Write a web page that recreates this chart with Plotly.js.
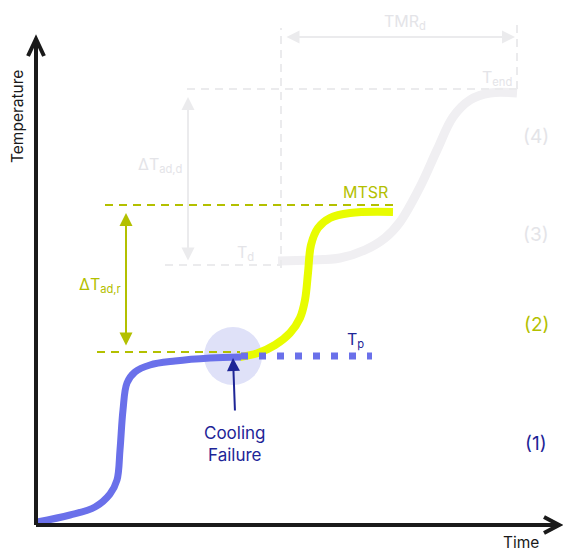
<!DOCTYPE html>
<html><head><meta charset="utf-8">
<script src="https://cdn.plot.ly/plotly-3.0.1.min.js"></script>
<style>html,body{margin:0;padding:0;background:#fff}#c{width:563px;height:552px}</style>
</head><body><div id="c"></div>
<script>
// Schematic coordinates: time (x) and temperature (y), arbitrary units
const blueTime = [37, 70, 95, 110, 117, 120, 123, 127, 135, 150, 175, 210, 241];
const blueTemp = [30, 37, 45, 58, 72, 102, 142, 169, 180, 187, 191, 194, 195];
const processTime = [241, 372];
const processTemp = [196, 196];
const yellowTime = [240, 258, 275, 290, 300, 305, 308, 311, 318, 330, 350, 393];
const yellowTemp = [195, 199, 207, 219, 234, 252, 279, 307, 324, 334, 339, 340];
const greyTime = [278, 310, 340, 365, 385, 400, 420, 437, 453, 470, 490, 517];
const greyTemp = [291, 292, 294, 302, 314, 330, 365, 402, 435, 452, 459, 459];

const levels = {Tp: 200, MTSR: 347, Td: 287, Tend: 463};
const times = {fail: 233, d: 281, end: 517};
const regionLabels = ['(1)', '(2)', '(3)', '(4)'];
const regionTemps = [109, 228, 318, 416];

const OLIVE = '#b3c000', NAVY = '#1e2597', BLUE = '#6a70ea', YEL = '#e8fc00';
const LG = '#ebebed', LGT = '#e4e4e8';

const traces = [
  {x: greyTime, y: greyTemp, mode: 'lines', line: {color: '#f0eff2', width: 9, shape: 'spline'}, hoverinfo: 'skip'},
  {x: yellowTime, y: yellowTemp, mode: 'lines', line: {color: YEL, width: 8, shape: 'spline'}, hoverinfo: 'skip'},
  {x: blueTime, y: blueTemp, mode: 'lines', line: {color: BLUE, width: 7, shape: 'spline'}, hoverinfo: 'skip'},
  {x: processTime, y: processTemp, mode: 'lines', line: {color: BLUE, width: 7, dash: '7px,11px'}, hoverinfo: 'skip'}
];

const shapes = [
  {type: 'circle', xref: 'x', yref: 'y', x0: times.fail - 29, x1: times.fail + 29, y0: 196 - 29, y1: 196 + 29,
   fillcolor: '#dfe1f8', line: {width: 0}, layer: 'below'},
  {type: 'line', x0: 187, x1: times.end, y0: levels.Tend, y1: levels.Tend, line: {color: LG, width: 2, dash: '8px,6px'}},
  {type: 'line', x0: 165, x1: times.d, y0: levels.Td, y1: levels.Td, line: {color: LG, width: 2, dash: '8px,6px'}},
  {type: 'line', x0: times.d, x1: times.d, y0: levels.Td - 3, y1: 524, line: {color: LG, width: 2, dash: '8px,6px'}},
  {type: 'line', x0: times.end, x1: times.end, y0: levels.Tend, y1: 532, line: {color: LG, width: 2, dash: '8px,6px'}},
  {type: 'line', x0: 105, x1: 393, y0: levels.MTSR, y1: levels.MTSR, line: {color: OLIVE, width: 2, dash: '8px,6px'}},
  {type: 'line', x0: 97, x1: 240, y0: levels.Tp, y1: levels.Tp, line: {color: OLIVE, width: 2, dash: '8px,6px'}, layer: 'below'},
  {type: 'line', x0: 36, x1: 36, y0: 27, y1: 512, line: {color: '#1a1a1a', width: 4}},
  {type: 'line', x0: 36, x1: 558, y0: 27, y1: 27, line: {color: '#1a1a1a', width: 4}},
  {type: 'path', path: 'M 28 496 L 36 513 L 44 496', line: {color: '#1a1a1a', width: 4}},
  {type: 'path', path: 'M 544 35 L 559 27 L 544 19', line: {color: '#1a1a1a', width: 4}}
];

function arrow(x, y, ax, ay, color, w, both) {
  return {x: x, y: y, ax: ax, ay: ay, xref: 'x', yref: 'y', axref: 'x', ayref: 'y', text: '',
    showarrow: true, arrowhead: 2, startarrowhead: 2, arrowside: both ? 'end+start' : 'end',
    arrowsize: 1.3, startarrowsize: 1.3, arrowwidth: w, arrowcolor: color};
}

const fontBase = 'Inter, "DejaVu Sans", sans-serif';
function label(x, y, text, color, size, extra) {
  return Object.assign({x: x, y: y, xref: 'x', yref: 'y', text: text, showarrow: false,
    font: {family: fontBase, color: color, size: size}}, extra || {});
}

const annotations = [
  arrow(515, 515, 285, 515, LG, 2, true),
  arrow(188, 455, 188, 290, LG, 2, true),
  arrow(126, 339, 126, 205, OLIVE, 2, true),
  arrow(233, 194, 235, 140, NAVY, 2, false),
  label(405, 530, 'TMR<sub>d</sub>', LGT, 16),
  label(497, 474, 'T<sub>end</sub>', LGT, 16),
  label(245, 299, 'T<sub>d</sub>', LGT, 16),
  label(160, 387, 'ΔT<sub>ad,d</sub>', LGT, 16),
  label(100, 267, 'ΔT<sub>ad,r</sub>', OLIVE, 16),
  label(365, 360, 'MTSR', OLIVE, 16),
  label(355, 212, 'T<sub>p</sub>', NAVY, 16),
  label(235, 108, 'Cooling<br>Failure', NAVY, 17),
  label(17, 435, 'Temperature', '#1a1a1a', 15.5, {textangle: -90}),
  label(521, 10, 'Time', '#1a1a1a', 15.5)
];
const regionColors = [NAVY, OLIVE, LGT, LGT];
regionLabels.forEach((t, i) => annotations.push(label(536, regionTemps[i], t, regionColors[i], 19)));

Plotly.newPlot('c', traces, {
  width: 563, height: 552, margin: {l: 0, r: 0, t: 0, b: 0},
  paper_bgcolor: '#fff', plot_bgcolor: '#fff', showlegend: false,
  xaxis: {range: [0, 563], visible: false, fixedrange: true},
  yaxis: {range: [0, 552], visible: false, fixedrange: true},
  shapes: shapes, annotations: annotations
}, {staticPlot: true});
</script></body></html>
